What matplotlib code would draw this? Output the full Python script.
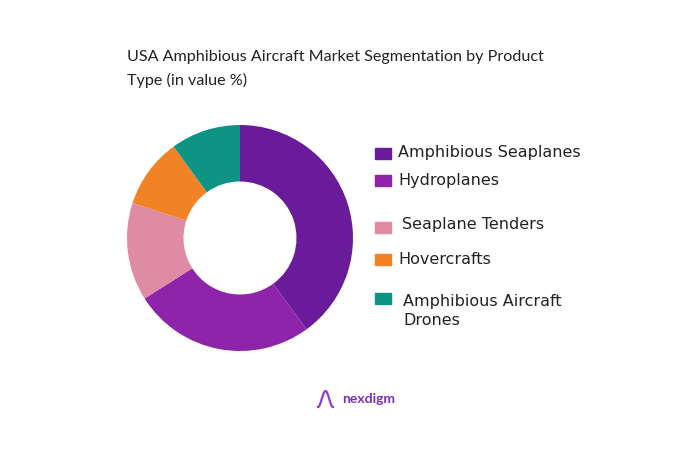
import matplotlib.pyplot as plt
import matplotlib.patches as mpatches
import numpy as np

# Product type shares (value %)
segments = ['Amphibious Seaplanes', 'Hydroplanes', 'Seaplane Tenders',
            'Hovercrafts', 'Amphibious Aircraft\nDrones']
shares = [40, 26, 14, 10, 10]
colors = ['#6a1b9a', '#8e24aa', '#df8ba3', '#f28226', '#0e9384']

W, H = 700, 453
fig = plt.figure(figsize=(W / 100, H / 100), dpi=100)
fig.patch.set_facecolor('white')

def fx(px):
    return px / W

def fy(py):
    return 1 - py / H

# donut, center (240, 238) px, radius 113 px
cx, cy, r = 240, 238, 113
ax = fig.add_axes([fx(cx - r), fy(cy + r), 2 * r / W, 2 * r / H])
ax.pie(shares, colors=colors, startangle=90, counterclock=False, radius=1,
       wedgeprops=dict(width=0.5, edgecolor='none'))
ax.set_xlim(-1, 1)
ax.set_ylim(-1, 1)
ax.set_aspect('equal')
ax.axis('off')

# title
fig.text(fx(127), fy(57), 'USA Amphibious Aircraft Market Segmentation by Product',
         fontsize=11.6, family='Lato', color='#222222', va='center')
fig.text(fx(127), fy(80), 'Type (in value %)',
         fontsize=11.6, family='Lato', color='#222222', va='center')

# legend drawn by hand (uneven spacing in the original)
sq_y = [153, 180, 228, 259, 298]
txt_x = [398, 398, 402, 398, 403]
txt_y = [153, 180, 224, 259, 311]
for i in range(len(segments)):
    fig.patches.append(mpatches.Rectangle((fx(375), fy(sq_y[i] + 5.5)), 16 / W, 11 / H,
                                          transform=fig.transFigure, color=colors[i]))
    fig.text(fx(txt_x[i]), fy(txt_y[i]), segments[i], fontsize=11.5, family='DejaVu Sans',
             color='#222222', va='center', linespacing=1.4)

# logo
t = np.linspace(0, 1, 60)
lx = 318 + 15 * t
ly = 399 + 8 * np.cos(t * 2 * np.pi)
fig.add_artist(plt.Line2D(fx(lx), fy(ly), color='#8e3fd0', lw=1.6, transform=fig.transFigure))
fig.text(fx(342), fy(399), 'nexdigm', fontsize=10, family='Lato', fontweight='bold',
         color='#7b2fbe', va='center')

fig.savefig('out.png', dpi=100, facecolor='white')
